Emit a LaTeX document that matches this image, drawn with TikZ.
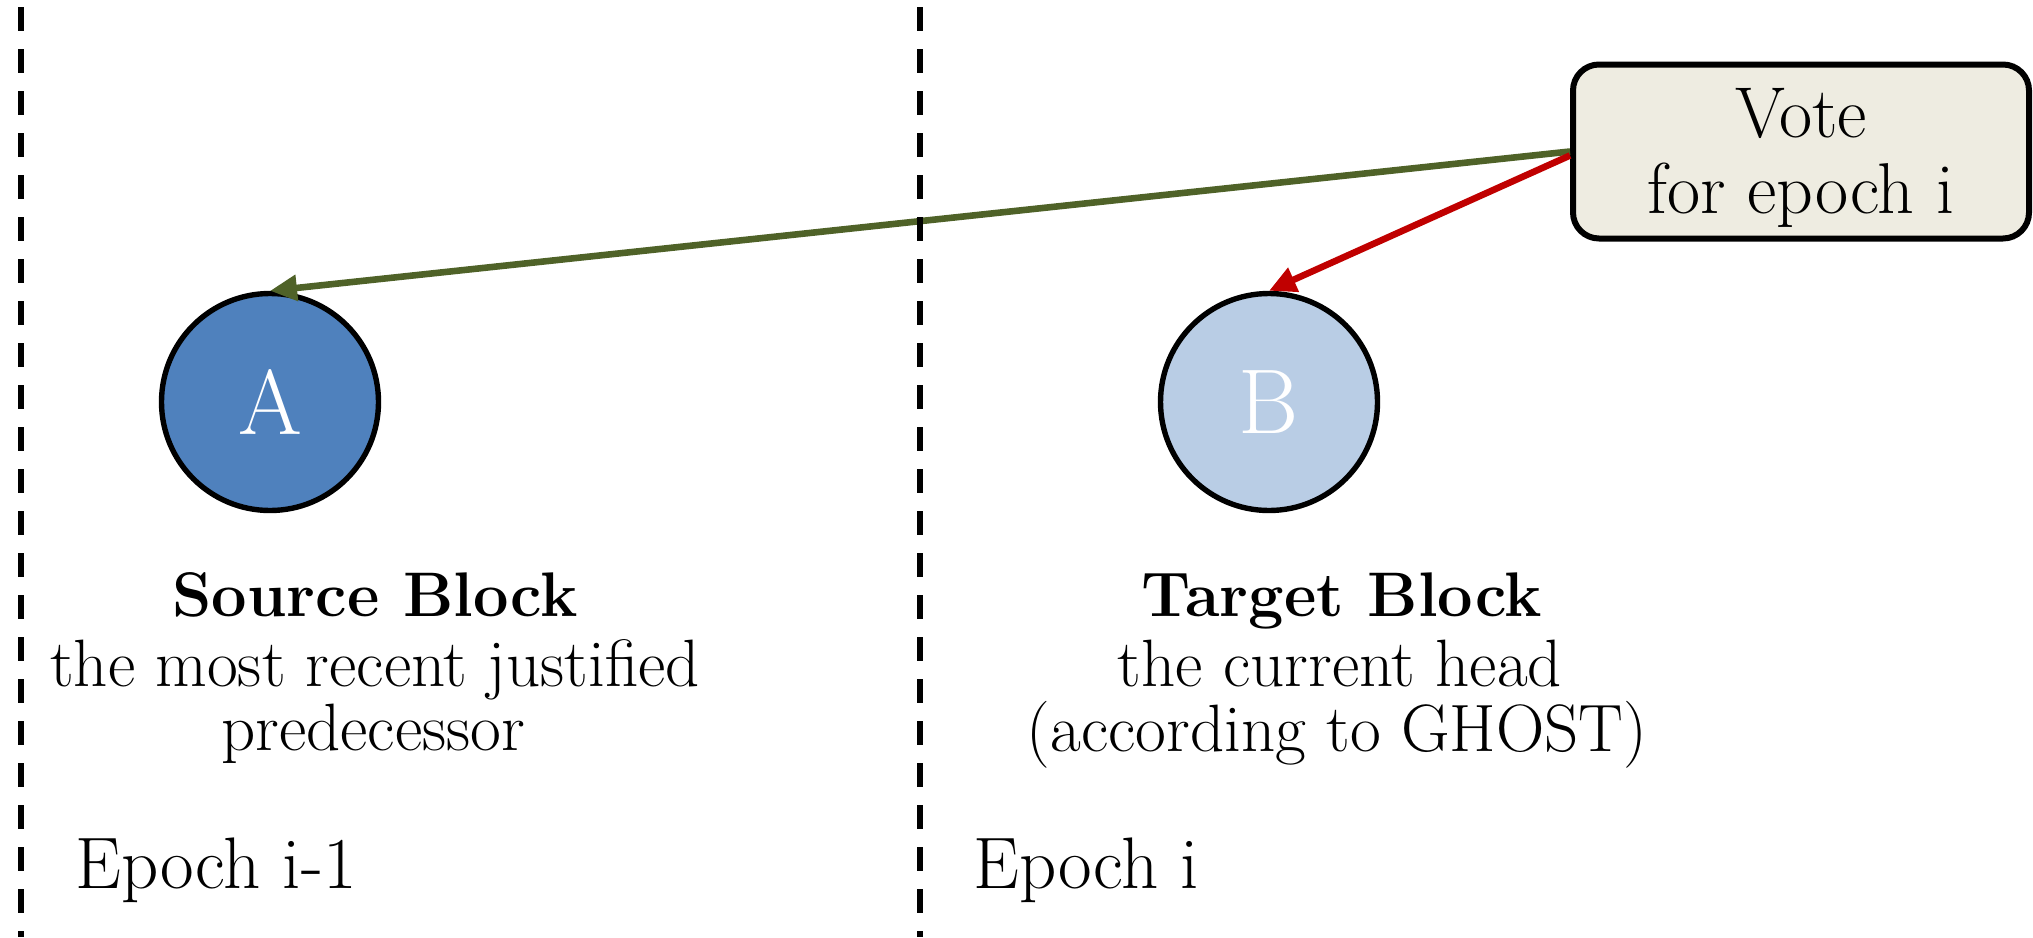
\documentclass[tikz,border=0pt]{standalone}
\usetikzlibrary{arrows.meta}

\definecolor{srcfill}{HTML}{4F81BD}
\definecolor{tgtfill}{HTML}{B9CDE5}
\definecolor{votefill}{HTML}{EEECE1}
\definecolor{srcline}{HTML}{4F6228}
\definecolor{tgtline}{HTML}{C00000}

\tikzset{
  block/.style={circle, draw=black, line width=2.7pt, minimum size=108.5pt, inner sep=0pt,
                text=white, font=\fontsize{46}{50}\selectfont},
  votebox/.style={draw=black, line width=3pt, rounded corners=13pt, fill=votefill,
                  minimum width=228pt, minimum height=87pt, inner sep=0pt},
  votetext/.style={anchor=base, inner sep=0pt, font=\fontsize{36}{40}\selectfont},
  titletext/.style={anchor=base, inner sep=0pt, font=\bfseries\fontsize{31.5}{35}\selectfont},
  bodytext/.style={anchor=base, inner sep=0pt, font=\fontsize{33.5}{37}\selectfont},
  epochtext/.style={anchor=base west, inner sep=0pt, font=\fontsize{36.5}{40}\selectfont},
  boundary/.style={draw=black, line width=3pt, dash pattern=on 12pt off 9pt},
  voteedge/.style={line width=3.3pt, -{Triangle[length=13.5pt,width=12.5pt]}},
}

\begin{document}
\begin{tikzpicture}[x=0.5pt, y=-0.5pt]
  \useasboundingbox (0,0) rectangle (2033,937);

  % blocks
  \node[block, fill=srcfill] (A) at (270,402) {A};
  \node[block, fill=tgtfill] (B) at (1269,402) {B};

  % the vote
  \node[votebox] (vote) at (1801,151.5) {};
  \node[votetext] (voteLine1) at (1801,137) {Vote};
  \node[votetext] (voteLine2) at (1801,213) {for epoch i};

  % source and target links
  \draw[voteedge, draw=srcline, fill=srcline] (vote.west) -- (A.north);
  \draw[voteedge, draw=tgtline, fill=tgtline] ([yshift=-2pt]vote.west) -- (B.north);

  % epoch boundaries
  \coordinate (leftTop) at (21,7);
  \coordinate (leftBot) at (21,937);
  \coordinate (midTop) at (919.5,7);
  \coordinate (midBot) at (919.5,937);
  \draw[boundary] (leftTop) -- (leftBot);
  \draw[boundary] (midTop) -- (midBot);

  % captions
  \node[titletext] (srcTitle) at (375,616) {Source Block};
  \node[bodytext] (srcLine1) at (375,686) {the most recent justified};
  \node[bodytext] (srcLine2) at (373,750) {predecessor};

  \node[titletext] (tgtTitle) at (1342,616) {Target Block};
  \node[bodytext] (tgtLine1) at (1340,686) {the current head};
  \node[bodytext] (tgtLine2) at (1337,751) {(according to GHOST)};

  \node[epochtext] (epochPrev) at (75,888) {Epoch i-1};
  \node[epochtext] (epochCur) at (973,888) {Epoch i};
\end{tikzpicture}
\end{document}
